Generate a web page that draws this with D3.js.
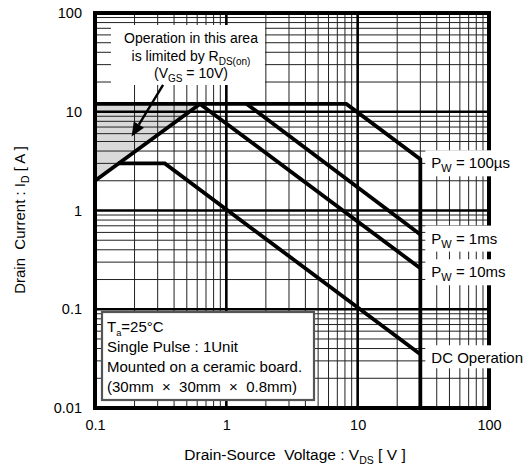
<!DOCTYPE html>
<html><head><meta charset="utf-8">
<script src="https://cdn.jsdelivr.net/npm/d3@7"></script>
<style>
body{margin:0;background:#fff}
text{font-family:"Liberation Sans",Arial,sans-serif;white-space:pre;fill:#000}
</style>
</head><body>
<svg id="c" width="531" height="466"></svg>
<script>
// ---- data ----
const xTicks = [0.1, 1, 10, 100];
const xTickLabels = ["0.1", "1", "10", "100"];
const yTicks = [0.01, 0.1, 1, 10, 100];
const yTickLabels = ["0.01", "0.1", "1", "10", "100"];

const rdsV = [0.1, 0.63];          const rdsI = [2, 12];
const pw100usV = [0.1, 8.2, 30, 30]; const pw100usI = [12, 12, 3.3, 0.01];
const pw1msV = [1.43, 30];         const pw1msI = [12, 0.57];
const pw10msV = [0.63, 30];        const pw10msI = [12, 0.26];
const dcV = [0.15, 0.34, 30];      const dcI = [3, 3, 0.035];
const shadeV = [0.1, 0.63, 0.1];   const shadeI = [2, 12, 12];

const seriesNames = ["100µs", "1ms", "10ms", "DC Operation"];
const arrowV = [0.33, 0.19];       const arrowI = [18.7, 5.6];

const annotLines = [
  [{t: "Operation in this area"}],
  [{t: "is limited by R"}, {t: "DS(on)", sub: 1}],
  [{t: "(V"}, {t: "GS", sub: 1}, {t: " = 10V)"}]
];
const legendLines = [
  [{t: "T"}, {t: "a", sub: 1, small: 1}, {t: "=25°C"}],
  [{t: "Single Pulse : 1Unit"}],
  [{t: "Mounted on a ceramic board."}],
  [{t: "(30mm  ×  30mm  ×  0.8mm)"}]
];

// ---- layout ----
const svg = d3.select("#c");
const L = 95, R = 489, T = 13, B = 408;
const x = d3.scaleLog().domain([0.1, 100]).range([L, R]);
const y = d3.scaleLog().domain([0.01, 100]).range([B, T]);

svg.append("rect").attr("width", 531).attr("height", 466).attr("fill", "#fff");

// shaded RDS(on) area
const pts = (V, I) => V.map((v, i) => [x(v), y(I[i])]);
svg.append("path").attr("d", d3.line()(pts(shadeV, shadeI)) + "Z").attr("fill", "#d9d9d9");

// grid
function minors(lo, hi) {
  const out = [];
  for (let d = lo; d < hi * 0.999; d *= 10) for (let k = 2; k <= 9; k++) out.push(d * k);
  return out;
}
const g = svg.append("g");
g.selectAll(".vx").data(minors(0.1, 100)).enter().append("line")
  .attr("x1", d => x(d)).attr("x2", d => x(d)).attr("y1", T).attr("y2", B)
  .attr("stroke", "#222").attr("stroke-width", 1);
g.selectAll(".hy").data(minors(0.01, 100)).enter().append("line")
  .attr("y1", d => y(d)).attr("y2", d => y(d)).attr("x1", L).attr("x2", R)
  .attr("stroke", "#222").attr("stroke-width", 1);
g.selectAll(".vX").data(xTicks.slice(1, -1)).enter().append("line")
  .attr("x1", d => x(d)).attr("x2", d => x(d)).attr("y1", T).attr("y2", B)
  .attr("stroke", "#000").attr("stroke-width", 2.6);
g.selectAll(".hY").data(yTicks.slice(1, -1)).enter().append("line")
  .attr("y1", d => y(d)).attr("y2", d => y(d)).attr("x1", L).attr("x2", R)
  .attr("stroke", "#000").attr("stroke-width", 2.6);

// curves
const curves = [[rdsV, rdsI], [pw100usV, pw100usI], [pw1msV, pw1msI], [pw10msV, pw10msI], [dcV, dcI]];
const line = d3.line().x(d => d[0]).y(d => d[1]);
curves.forEach(([V, I]) => {
  svg.append("path").attr("d", line(pts(V, I))).attr("fill", "none")
    .attr("stroke", "#000").attr("stroke-width", 3.8).attr("stroke-linejoin", "miter");
});

// border
svg.append("rect").attr("x", L).attr("y", T).attr("width", R - L).attr("height", B - T)
  .attr("fill", "none").attr("stroke", "#000").attr("stroke-width", 4);

// helper for text with subscripts
function richText(sel, parts, size, subSize) {
  parts.forEach((p, i) => {
    const ts = sel.append("tspan").text(p.t);
    if (p.sub) {
      ts.attr("font-size", p.small ? size * 0.62 : subSize).attr("dy", p.small ? 4 : 4);
    } else {
      ts.attr("font-size", size);
      if (i > 0 && parts[i - 1].sub) ts.attr("dy", -4);
    }
  });
  return sel;
}

// annotation box
svg.append("rect").attr("x", 111).attr("y", 25).attr("width", 154).attr("height", 60).attr("fill", "#fff");
const annY = [43, 61, 78];
annotLines.forEach((parts, i) => {
  const t = svg.append("text").attr("x", 191).attr("y", annY[i]).attr("text-anchor", "middle");
  richText(t, parts, 14, 10);
});

// arrow
const a0 = [x(arrowV[0]), y(arrowI[0])], a1 = [x(arrowV[1]), y(arrowI[1])];
const ang = Math.atan2(a1[1] - a0[1], a1[0] - a0[0]);
const hl = 14, hw = 6;
const base = [a1[0] - hl * Math.cos(ang), a1[1] - hl * Math.sin(ang)];
svg.append("line").attr("x1", a0[0]).attr("y1", a0[1]).attr("x2", base[0]).attr("y2", base[1])
  .attr("stroke", "#000").attr("stroke-width", 2.4);
svg.append("path").attr("d", d3.line()([
  a1,
  [base[0] + hw * Math.sin(ang), base[1] - hw * Math.cos(ang)],
  [base[0] - hw * Math.sin(ang), base[1] + hw * Math.cos(ang)]
]) + "Z").attr("fill", "#000");

// legend box
svg.append("rect").attr("x", 102).attr("y", 312).attr("width", 212).attr("height", 88)
  .attr("fill", "#fff").attr("stroke", "#555").attr("stroke-width", 2.2);
legendLines.forEach((parts, i) => {
  const t = svg.append("text").attr("x", 107).attr("y", 331.5 + i * 20.3);
  richText(t, parts, 15, 10);
});

// curve labels
const ends = [pw100usI[2], pw1msI[1], pw10msI[1], dcI[2]];
seriesNames.forEach((name, i) => {
  const gx = svg.append("g");
  const t = gx.append("text").attr("x", x(30) + 11).attr("y", y(ends[i]) + 9);
  if (i < 3) richText(t, [{t: "P"}, {t: "W", sub: 1}, {t: " = " + name}], 15, 11);
  else richText(t, [{t: name}], 15, 11);
  const bb = t.node().getBBox();
  gx.insert("rect", "text").attr("x", bb.x - 6).attr("y", bb.y - 4)
    .attr("width", bb.width + 12).attr("height", bb.height + 6).attr("fill", "#fff");
});

// axes (tick labels only)
const xa = svg.append("g").attr("transform", `translate(0,${B + 8})`)
  .call(d3.axisBottom(x).tickValues(xTicks).tickSize(0).tickFormat((d, i) => xTickLabels[i]));
xa.select(".domain").remove();
xa.selectAll("text").attr("font-size", 14.5).attr("font-family", null).attr("dy", "0.71em").attr("y", 4);
const ya = svg.append("g").attr("transform", `translate(${L - 13},0)`)
  .call(d3.axisLeft(y).tickValues(yTicks).tickSize(0).tickFormat((d, i) => yTickLabels[i]));
ya.select(".domain").remove();
ya.selectAll("text").attr("font-size", 14.5).attr("font-family", null).attr("x", 0);

// axis titles
const xt = svg.append("text").attr("x", 295).attr("y", 460).attr("text-anchor", "middle");
richText(xt, [{t: "Drain-Source  Voltage : V"}, {t: "DS", sub: 1}, {t: " [ V ]"}], 15.5, 10.5);
const yt = svg.append("text").attr("transform", "translate(25,220) rotate(-90)").attr("text-anchor", "middle");
richText(yt, [{t: "Drain  Current : I"}, {t: "D", sub: 1}, {t: " [ A ]"}], 15, 10.5);
</script>
</body></html>
